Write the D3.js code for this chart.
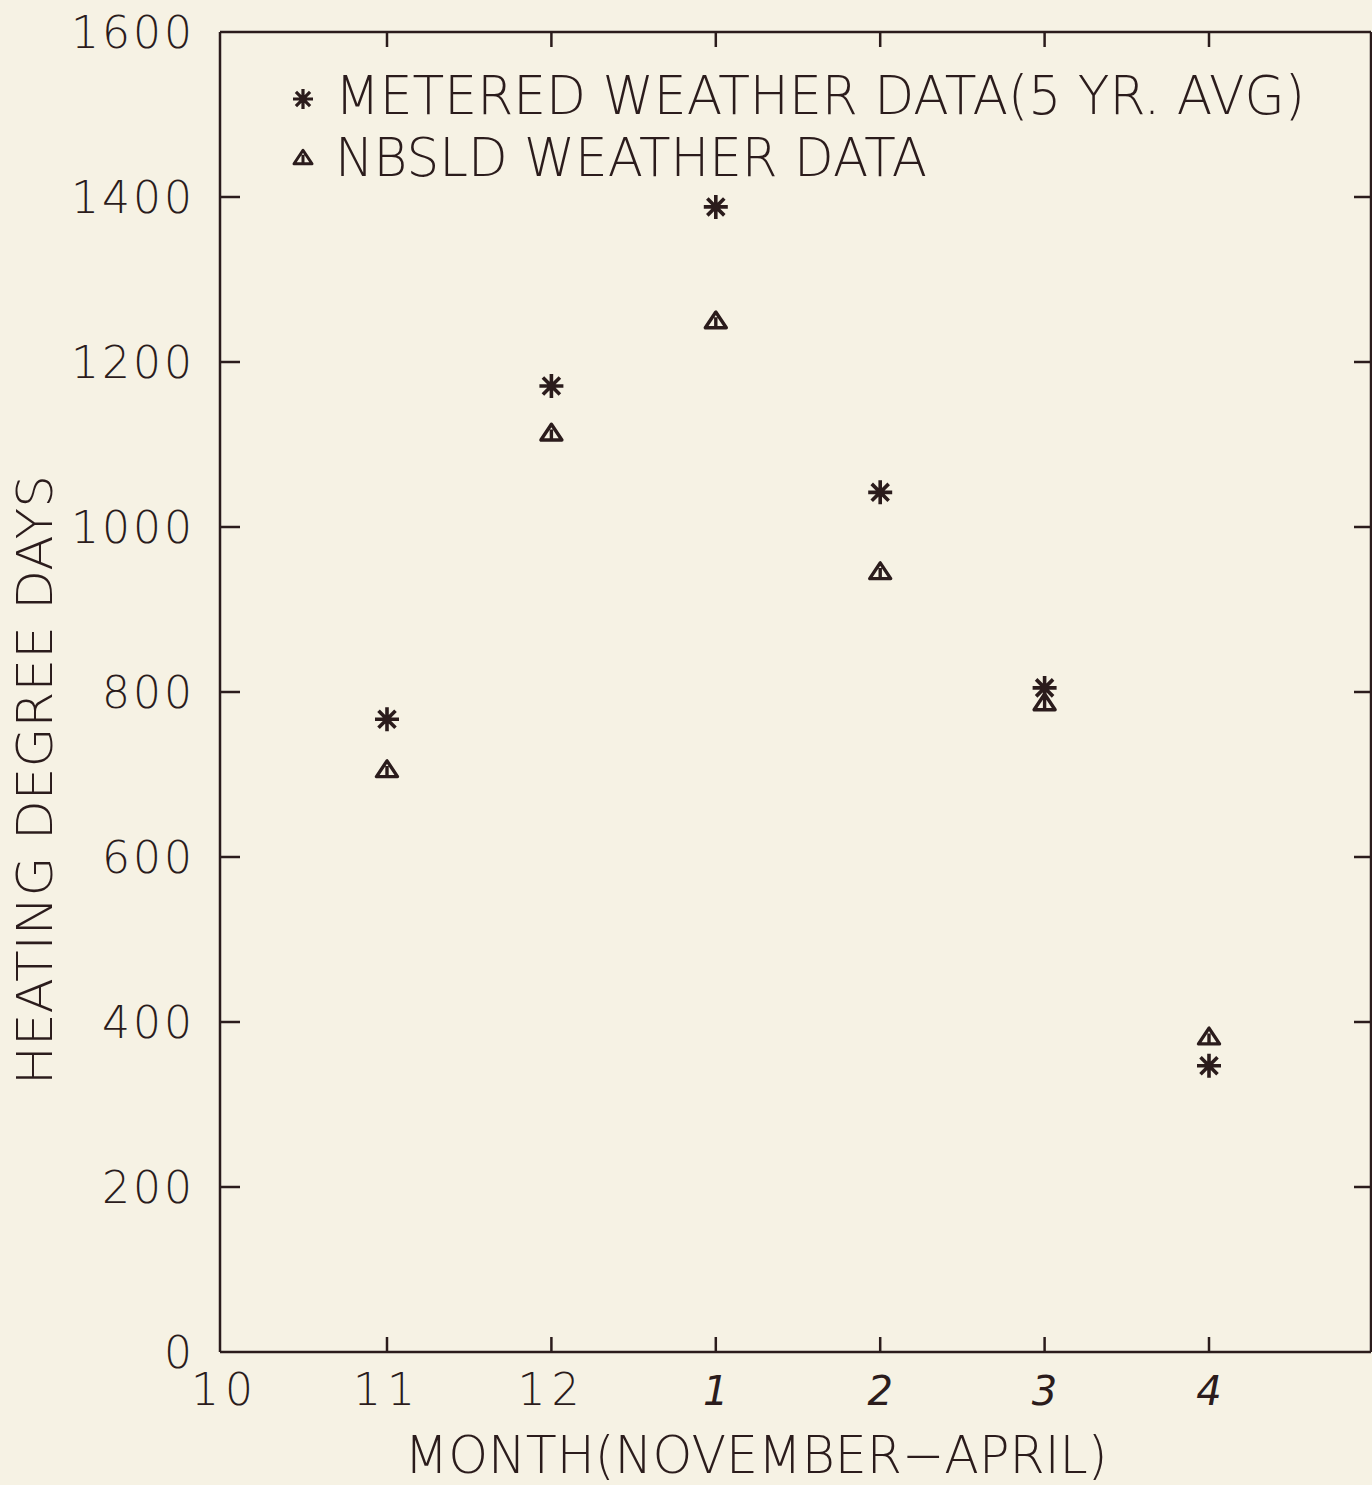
<!DOCTYPE html>
<html><head><meta charset="utf-8">
<script src="https://cdn.jsdelivr.net/npm/d3@7"></script>
<style>
html,body{margin:0;padding:0;background:#f6f2e4;}
svg{display:block;}
text{font-family:"DejaVu Sans","Liberation Sans",sans-serif;font-weight:200;fill:#2b1c1c;}
</style></head>
<body>
<script>
// ---- data ----
const monthLabels = ["10","11","12","1","2","3","4"];
const dataMonths = ["11","12","1","2","3","4"];
const metered = [767, 1171, 1388, 1042, 805, 347];
const nbsld   = [707, 1115, 1251, 947, 788, 383];
const yTicks = [0,200,400,600,800,1000,1200,1400,1600];
const seriesNames = ["METERED WEATHER DATA(5 YR. AVG)","NBSLD WEATHER DATA"];
const xTitle = "MONTH(NOVEMBER\u2212APRIL)";
const yTitle = "HEATING DEGREE DAYS";

const W = 1372, H = 1485;
const ink = "#2b1c1c";
const L = 220, R = 1371, T = 32, B = 1352;

const svg = d3.select("body").append("svg").attr("width",W).attr("height",H);
svg.append("rect").attr("width",W).attr("height",H).attr("fill","#f6f2e4");

const x = d3.scaleLinear().domain([1, 6]).range([387, 1209]);
const xi = m => monthLabels.indexOf(m);
const y = d3.scaleLinear().domain([0,1600]).range([B, T]);

// frame
const g = svg.append("g").attr("stroke", ink).attr("fill","none").attr("stroke-width",2.5);
g.append("line").attr("x1",L).attr("x2",R).attr("y1",B).attr("y2",B);
g.append("line").attr("x1",L).attr("x2",R).attr("y1",T).attr("y2",T);
g.append("line").attr("x1",L).attr("x2",L).attr("y1",T).attr("y2",B);
g.append("line").attr("x1",R).attr("x2",R).attr("y1",T).attr("y2",B);

// y ticks (inward both sides)
yTicks.slice(1,-1).forEach(v=>{
  g.append("line").attr("x1",L).attr("x2",L+20).attr("y1",y(v)).attr("y2",y(v));
  g.append("line").attr("x1",R).attr("x2",R-17).attr("y1",y(v)).attr("y2",y(v));
});
// x ticks (inward top and bottom)
monthLabels.slice(1).forEach(m=>{
  g.append("line").attr("x1",x(xi(m))).attr("x2",x(xi(m))).attr("y1",B).attr("y2",B-15);
  g.append("line").attr("x1",x(xi(m))).attr("x2",x(xi(m))).attr("y1",T).attr("y2",T+15);
});

// y tick labels
svg.append("g").selectAll("text").data(yTicks).join("text")
  .attr("x", 195).attr("y", d=>y(d)+16)
  .attr("text-anchor","end").attr("font-size",44)
  .attr("letter-spacing", 3)
  .text(d=>d);

// x tick labels
svg.append("g").selectAll("text").data(monthLabels).join("text")
  .attr("x", (d,i)=> i===0 ? 225 : x(i))
  .attr("y", 1405)
  .attr("text-anchor","middle")
  .attr("font-size", (d,i)=> i>=3 ? 40 : 44)
  .attr("font-style", (d,i)=> i>=3 ? "italic" : "normal")
  .attr("font-weight", (d,i)=> i>=3 ? 700 : 200)
  .attr("letter-spacing", (d,i)=> i>=3 ? 0 : 6)
  .text(d=>d);

// axis titles
svg.append("text").attr("x", 756).attr("y", 1473).attr("text-anchor","middle")
  .attr("font-size",52).attr("textLength",703).attr("lengthAdjust","spacingAndGlyphs").text(xTitle);
svg.append("text").attr("transform","translate(52,780) rotate(-90)").attr("text-anchor","middle")
  .attr("font-size",50).attr("textLength",610).attr("lengthAdjust","spacingAndGlyphs").text(yTitle);

// markers
function star(sel, cx, cy, r, sw){
  const p = d3.path();
  for (let k=0;k<4;k++){
    const a = k*Math.PI/4;
    p.moveTo(cx + r*Math.cos(a), cy + r*Math.sin(a));
    p.lineTo(cx - r*Math.cos(a), cy - r*Math.sin(a));
  }
  sel.append("path").attr("d", p.toString()).attr("stroke", ink).attr("stroke-width",sw).attr("fill","none");
  sel.append("circle").attr("cx",cx).attr("cy",cy).attr("r",sw*0.9).attr("fill",ink);
}
function tri(sel, cx, cy, s, sw){
  const h = s*0.75;
  const p = d3.path();
  p.moveTo(cx - s/2, cy + h/2); p.lineTo(cx + s/2, cy + h/2); p.lineTo(cx, cy - h/2); p.closePath();
  p.moveTo(cx, cy - h/6); p.lineTo(cx, cy + h/2);
  sel.append("path").attr("d", p.toString()).attr("stroke", ink).attr("stroke-width",sw).attr("fill","none").attr("stroke-linejoin","round");
}
const mg = svg.append("g");
dataMonths.forEach((m,i)=>{
  star(mg, x(xi(m)), y(metered[i]), 12, 3.6);
  tri(mg, x(xi(m)), y(nbsld[i]), 21, 3.4);
});

// legend
star(mg, 303, 99, 10, 3.2);
tri(mg, 303, 157, 18, 3);
svg.append("text").attr("x",335).attr("y",114).attr("font-size",54)
  .attr("textLength",970).attr("lengthAdjust","spacingAndGlyphs").text(seriesNames[0]);
svg.append("text").attr("x",335).attr("y",176).attr("font-size",54)
  .attr("textLength",592).attr("lengthAdjust","spacingAndGlyphs").text(seriesNames[1]);
</script>
</body></html>
